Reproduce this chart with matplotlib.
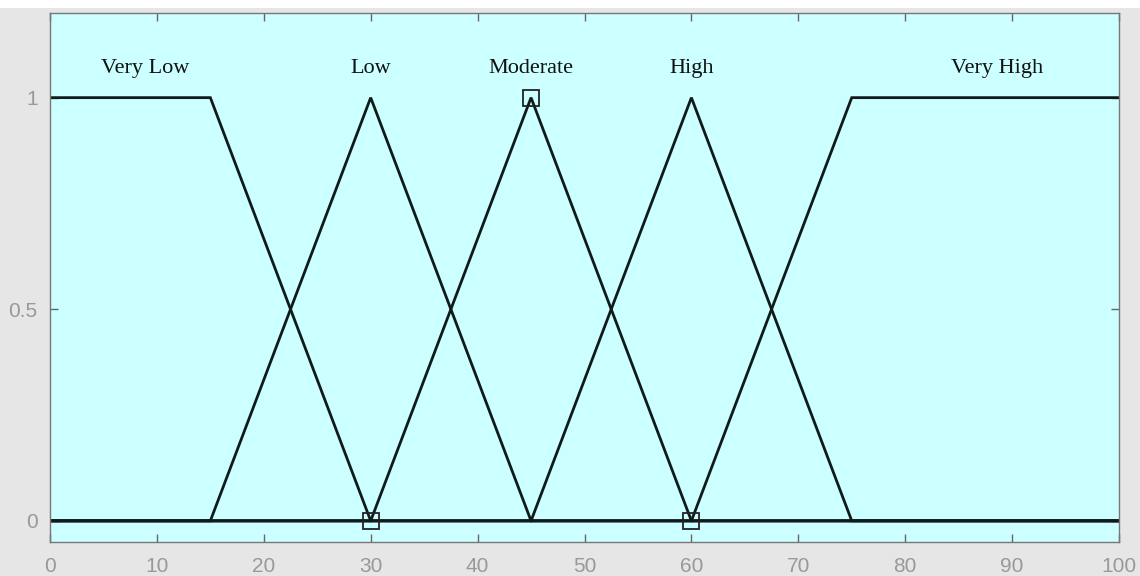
import matplotlib
matplotlib.use("Agg")
import matplotlib.pyplot as plt
from matplotlib.patches import Rectangle

# Membership function breakpoints (x) and membership values (y)
names = ["Very Low", "Low", "Moderate", "High", "Very High"]
mf_x = [
    [0, 15, 30, 100],
    [0, 15, 30, 45, 100],
    [0, 30, 45, 60, 100],
    [0, 45, 60, 75, 100],
    [0, 60, 75, 100],
]
mf_y = [
    [1, 1, 0, 0],
    [0, 0, 1, 0, 0],
    [0, 0, 1, 0, 0],
    [0, 0, 1, 0, 0],
    [0, 0, 1, 1],
]
label_x = [8.9, 30, 45, 60, 88.6]
label_y = 1.068
marker_x = [30, 45, 60]
marker_y = [0, 1, 0]
xticks = [0, 10, 20, 30, 40, 50, 60, 70, 80, 90, 100]
yticks = [0, 0.5, 1]
ytick_labels = ["0", "0.5", "1"]

fig = plt.figure(figsize=(11.4, 5.76), dpi=100, facecolor="#e6e6e6")
fig.patches.append(Rectangle((0, 1 - 8/576), 1, 8/576, transform=fig.transFigure,
                             facecolor="white", edgecolor="none", zorder=-1))
ax = fig.add_axes([50/1140, 1-542/576, 1069/1140, 529/576])
ax.set_facecolor("#ccffff")

for xs, ys in zip(mf_x, mf_y):
    ax.plot(xs, ys, color="#111a1a", lw=2.0, solid_joinstyle="miter")

ax.plot(marker_x, marker_y, ls="none", marker="s", ms=11, mfc="none",
        mec="#222222", mew=1.3)

for nm, lx in zip(names, label_x):
    ax.text(lx, label_y, nm, ha="center", va="center", fontsize=16,
            family="Liberation Serif", color="#111111")

ax.set_xlim(0, 100)
ax.set_ylim(-0.05, 1.2)
ax.set_xticks(xticks)
ax.set_yticks(yticks)
ax.set_yticklabels(ytick_labels)
ax.tick_params(direction="in", top=True, right=True, length=6, width=1,
               color="#666666", labelcolor="#999999", labelsize=15)
ax.tick_params(axis="x", pad=11)
ax.tick_params(axis="y", pad=9)
for lbl in ax.get_xticklabels() + ax.get_yticklabels():
    lbl.set_family("Liberation Sans")
for sp in ax.spines.values():
    sp.set_color("#777777")
    sp.set_linewidth(1.0)

fig.savefig("out.png", dpi=100, facecolor=fig.get_facecolor())
